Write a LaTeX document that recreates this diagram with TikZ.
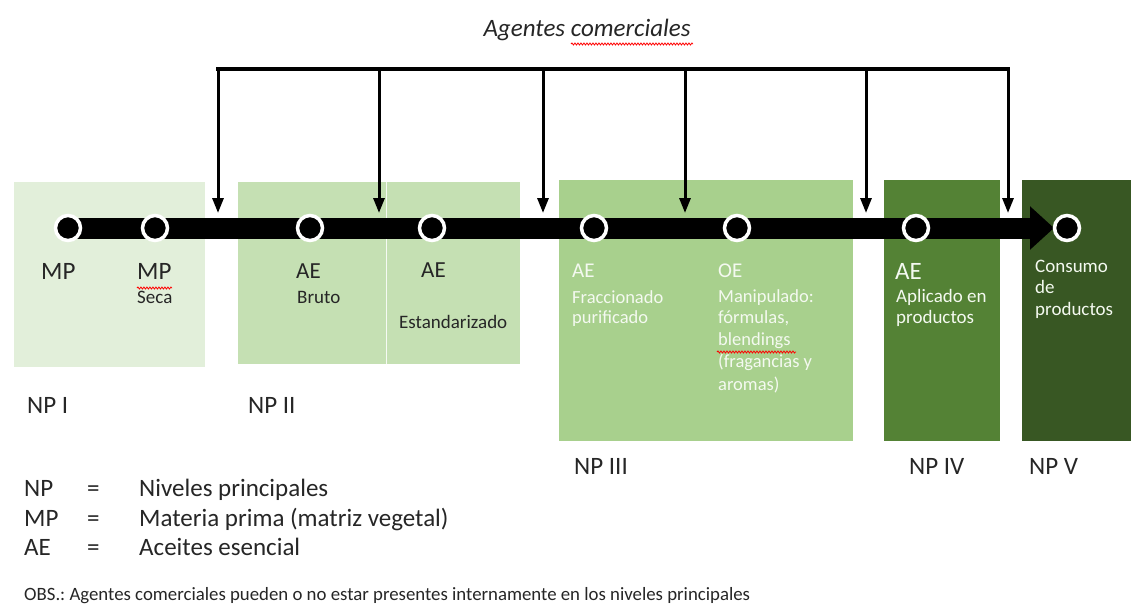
\documentclass[tikz,border=0pt]{standalone}
\usepackage{fontspec}
\setmainfont{Carlito}
\usetikzlibrary{arrows.meta,decorations.pathmorphing}
\definecolor{gA}{HTML}{E2EFDA}
\definecolor{gB}{HTML}{C5E0B3}
\definecolor{gC}{HTML}{A8D08D}
\definecolor{gD}{HTML}{548235}
\definecolor{gE}{HTML}{385723}
\definecolor{txt}{HTML}{262626}
\definecolor{wtxt}{HTML}{F4F9F0}
\frenchspacing
\begin{document}
\begin{tikzpicture}[x=1pt,y=-1pt,
  lab/.style={inner sep=0pt, anchor=base west, text=txt, font=\fontsize{25}{30}\selectfont},
  mid/.style={lab, font=\fontsize{23}{28}\selectfont},
  small/.style={lab, font=\fontsize{19}{23}\selectfont},
  wsmall/.style={lab, text=wtxt, font=\fontsize{18.5}{22}\selectfont},
  wlab/.style={lab, text=wtxt},
  dot/.style={circle, fill=black, draw=white, line width=3.5pt, minimum size=25pt, inner sep=0pt},
  agent/.style={line width=3pt, -{Triangle[length=15pt,width=11pt]}},
  squig/.style={red, line width=0.8pt, decorate, decoration={snake, amplitude=1pt, segment length=3pt}}
]
\useasboundingbox (0,0) rectangle (1132,606);
\fill[white] (0,0) rectangle (1132,606);

% level boxes
\fill[gA] (14,182) rectangle (205,367);
\fill[gB] (238,182) rectangle (520,364);
\draw[white!85!gB, line width=1pt] (386,182) -- (386,364);
\fill[gC] (559,180) rectangle (853,441);
\fill[gD] (884,180) rectangle (1000,441);
\fill[gE] (1022,180) rectangle (1131,441);

% title
\node[lab, anchor=base, font=\fontsize{25}{30}\selectfont\itshape] (title) at (587,36) {Agentes comerciales};
\draw[squig] (571,44) -- (693,44);

% agents bar and arrows
\coordinate (t1) at (218,69);
\coordinate (t2) at (379,69);
\coordinate (t3) at (543,69);
\coordinate (t4) at (685,69);
\coordinate (t5) at (866,69);
\coordinate (t6) at (1008,69);
\coordinate (e1) at (218,213);
\coordinate (e2) at (379,213);
\coordinate (e3) at (543,213);
\coordinate (e4) at (685,213);
\coordinate (e5) at (866,213);
\coordinate (e6) at (1008,213);
\draw[line width=4pt, line cap=rect] (t1) -- (t6);
\foreach \i in {1,...,6} \draw[agent] (t\i) -- (e\i);

% main timeline
\coordinate (s0) at (68,228);
\coordinate (s9) at (1054,228);
\draw[line width=21pt, -{Triangle[length=24pt,width=42pt]}] (s0) -- (s9);

\node[dot] (c1) at (68,228) {};
\node[dot] (c2) at (155,228) {};
\node[dot] (c3) at (310,228) {};
\node[dot] (c4) at (432,228) {};
\node[dot] (c5) at (594,228) {};
\node[dot] (c6) at (737,228) {};
\node[dot] (c7) at (916,228) {};
\node[dot] (c8) at (1067,228) {};

% NP I
\node[lab] (mp1) at (41,279) {MP};
\node[lab] (mp2) at (137,279) {MP};
\draw[squig] (137,288) -- (172,288);
\node[small] (seca) at (137,303) {Seca};
% NP II
\node[mid] (ae1) at (296,278) {AE};
\node[small] (bruto) at (297,303) {Bruto};
\node[mid] (ae2) at (421,277) {AE};
\node[small] (estand) at (399,328) {Estandarizado};
% NP III
\node[wlab, font=\fontsize{21}{25}\selectfont] (ae3) at (572,277) {AE};
\node[wsmall] (frac1) at (572,303) {Fraccionado};
\node[wsmall] (frac2) at (572,323) {purificado};
\node[wlab, font=\fontsize{21}{25}\selectfont] (oe) at (718,277) {OE};
\node[wsmall] (man1) at (718,302) {Manipulado:};
\node[wsmall] (man2) at (718,323) {fórmulas,};
\node[wsmall] (man3) at (718,345) {blendings};
\draw[squig] (717,352) -- (796,352);
\node[wsmall] (man4) at (718,367) {(fragancias y};
\node[wsmall] (man5) at (718,390) {aromas)};
% NP IV
\node[wlab] (ae4) at (895,279) {AE};
\node[wlab, font=\fontsize{19}{23}\selectfont] (apl1) at (896,302) {Aplicado en};
\node[wlab, font=\fontsize{19}{23}\selectfont] (apl2) at (896,323) {productos};
% NP V
\node[wlab, font=\fontsize{19}{23}\selectfont] (con1) at (1035,272) {Consumo};
\node[wlab, font=\fontsize{19}{23}\selectfont] (con2) at (1035,293) {de};
\node[wlab, font=\fontsize{19}{23}\selectfont] (con3) at (1035,315) {productos};

% level labels
\node[lab] (np1) at (27,413) {NP I};
\node[lab] (np2) at (248,413) {NP II};
\node[lab] (np3) at (574,474) {NP III};
\node[lab] (np4) at (909,474) {NP IV};
\node[lab] (np5) at (1029,474) {NP V};

% legend
\node[lab] (l1a) at (24,496) {NP};
\node[lab] (l1b) at (87,496) {=};
\node[lab] (l1c) at (139,496) {Niveles principales};
\node[lab] (l2a) at (24,526) {MP};
\node[lab] (l2b) at (87,526) {=};
\node[lab] (l2c) at (139,526) {Materia prima (matriz vegetal)};
\node[lab] (l3a) at (24,555) {AE};
\node[lab] (l3b) at (87,555) {=};
\node[lab] (l3c) at (139,555) {Aceites esencial};

\node[lab, font=\fontsize{18.8}{22}\selectfont] (obs) at (24,600) {OBS.: Agentes comerciales pueden o no estar presentes internamente en los niveles principales};
\end{tikzpicture}
\end{document}
